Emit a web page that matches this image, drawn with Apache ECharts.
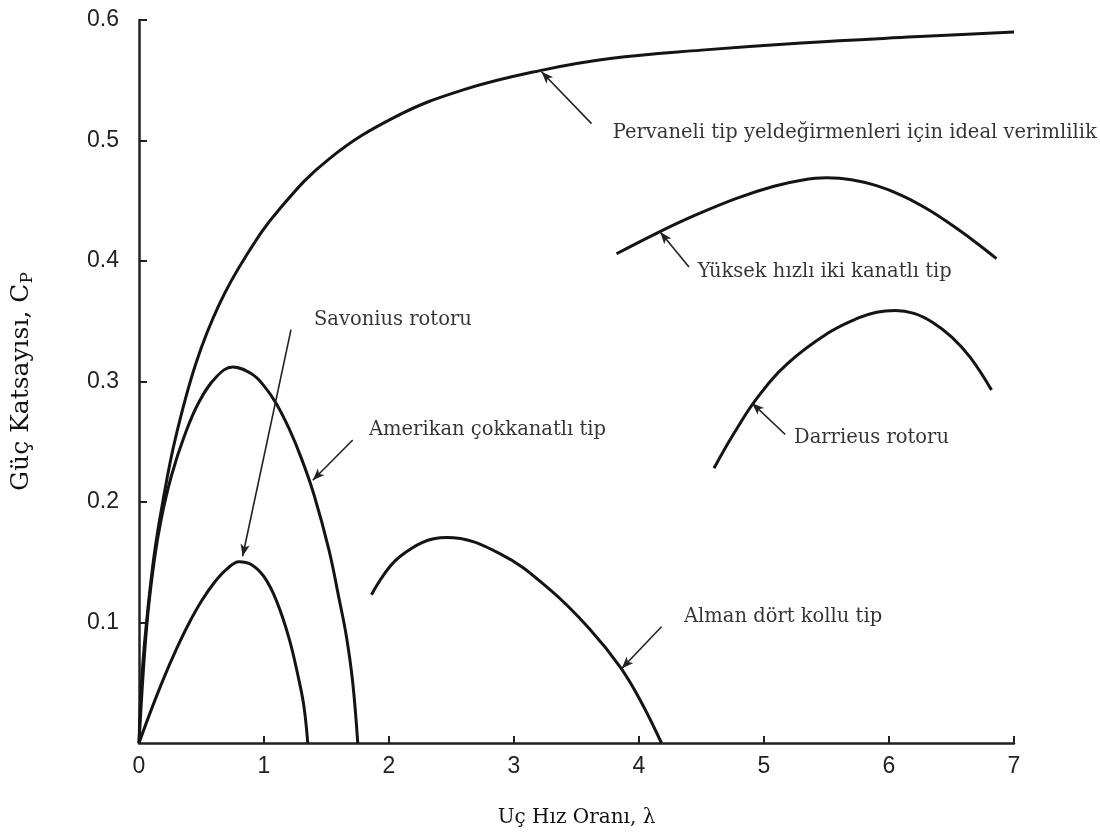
<!DOCTYPE html>
<html>
<head>
<meta charset="utf-8">
<script src="https://cdn.jsdelivr.net/npm/echarts@6/dist/echarts.min.js"></script>
<style>
  html, body { margin: 0; padding: 0; background: #ffffff; }
  #chart { width: 1100px; height: 838px; }
</style>
</head>
<body>
<div id="chart"></div>
<script>
// Power coefficient Cp versus tip speed ratio λ for several rotor types
const lambdaIdeal = [0, 0.02, 0.06, 0.12, 0.19, 0.294, 0.455, 0.642, 0.855, 1.123, 1.524, 2.058, 2.593, 3.208, 3.769, 4.5, 5.3, 6.2, 7.0];
const cpIdeal     = [0, 0.05, 0.1, 0.155, 0.2, 0.254, 0.315, 0.364, 0.404, 0.443, 0.485, 0.52, 0.542, 0.558, 0.568, 0.575, 0.581, 0.586, 0.59];

const lambdaAmerican = [0, 0.06, 0.12, 0.18, 0.26, 0.36, 0.48, 0.62, 0.75, 0.9, 1.0, 1.1, 1.2, 1.3, 1.4, 1.52, 1.6, 1.66, 1.71, 1.75];
const cpAmerican     = [0, 0.095, 0.15, 0.187, 0.222, 0.254, 0.283, 0.304, 0.312, 0.3064, 0.2964, 0.2814, 0.261, 0.236, 0.206, 0.16, 0.12, 0.088, 0.05, 0];

const lambdaSavonius = [0, 0.1, 0.2, 0.3, 0.4, 0.5, 0.6, 0.7, 0.8, 0.9, 1.0, 1.1, 1.2, 1.28, 1.32, 1.35];
const cpSavonius     = [0, 0.0281, 0.0543, 0.0781, 0.0994, 0.1178, 0.1328, 0.144, 0.1505, 0.148, 0.138, 0.118, 0.087, 0.052, 0.03, 0];

const lambdaGerman = [1.86, 2.09, 2.46, 2.89, 3.29, 3.61, 3.85, 4.01, 4.18];
const cpGerman     = [0.123, 0.155, 0.1705, 0.157, 0.127, 0.094, 0.063, 0.0355, 0];

const lambdaTwoBlade = [3.82, 4.14, 4.45, 4.78, 5.08, 5.3, 5.5, 5.7, 5.9, 6.1, 6.3, 6.5, 6.7, 6.86];
const cpTwoBlade     = [0.406, 0.423, 0.438, 0.452, 0.462, 0.467, 0.469, 0.4675, 0.4625, 0.4545, 0.4435, 0.43, 0.415, 0.402];

const lambdaDarrieus = [4.60, 4.76, 4.95, 5.19, 5.51, 5.75, 5.9, 6.05, 6.2, 6.35, 6.5, 6.65, 6.82];
const cpDarrieus     = [0.228, 0.257, 0.287, 0.315, 0.34, 0.3525, 0.3575, 0.359, 0.3565, 0.349, 0.337, 0.32, 0.293];

const xTicks = [0, 1, 2, 3, 4, 5, 6, 7];
const yTicks = [0.1, 0.2, 0.3, 0.4, 0.5, 0.6];

// Callout texts with their anchor points, arrow tails and arrow heads (data units)
const calloutTexts = [
  'Pervaneli tip yeldeğirmenleri için ideal verimlilik',
  'Yüksek hızlı iki kanatlı tip',
  'Darrieus rotoru',
  'Savonius rotoru',
  'Amerikan çokkanatlı tip',
  'Alman dört kollu tip'
];
const calloutAt   = [[3.79, 0.506], [4.47, 0.391], [5.24, 0.253], [1.40, 0.351], [1.84, 0.260], [4.36, 0.1048]];
const calloutTail = [[3.62, 0.514], [4.40, 0.395], [5.17, 0.256], [1.216, 0.343], [1.71, 0.2515], [4.18, 0.0965]];
const calloutHead = [[3.22, 0.557], [4.17, 0.424], [4.905, 0.282], [0.829, 0.155], [1.39, 0.218], [3.862, 0.0618]];

const zip = (xs, ys) => xs.map((x, i) => [x, ys[i]]);

const curveStyle = { color: '#141414', width: 3 };
function curve(name, xs, ys) {
  return {
    name, type: 'line', data: zip(xs, ys),
    showSymbol: false, smooth: 0.4, lineStyle: curveStyle,
    silent: true, z: 3
  };
}

const serifFont = 'DejaVu Serif';
const chart = echarts.init(document.getElementById('chart'), null, { renderer: 'canvas' });

chart.setOption({
  backgroundColor: '#ffffff',
  animation: false,
  grid: { left: 139, right: 86, top: 20, bottom: 95 },
  xAxis: {
    type: 'value', min: 0, max: 7, interval: 1,
    name: 'Uç Hız Oranı, λ', nameLocation: 'middle', nameGap: 65,
    nameTextStyle: { fontFamily: serifFont, fontSize: 20, color: '#111' },
    axisLine: { lineStyle: { color: '#222', width: 2.5 } },
    axisTick: { inside: true, length: 7, lineStyle: { color: '#222', width: 2 } },
    axisLabel: {
      margin: 12, fontFamily: 'Liberation Sans', fontSize: 23, color: '#222',
      formatter: v => xTicks.includes(v) ? String(v) : ''
    },
    splitLine: { show: false }
  },
  yAxis: {
    type: 'value', min: 0, max: 0.6, interval: 0.1,
    name: '{a|Güç Katsayısı, C}{s|P}', nameLocation: 'middle', nameGap: 103,
    nameTextStyle: {
      fontFamily: serifFont, fontSize: 25, color: '#111',
      rich: {
        a: { fontFamily: serifFont, fontSize: 25, color: '#111' },
        s: { fontFamily: serifFont, fontSize: 17, color: '#111', padding: [12, 0, 0, 0] }
      }
    },
    axisLine: { lineStyle: { color: '#222', width: 2.5 } },
    axisTick: { inside: true, length: 8, lineStyle: { color: '#222', width: 2 } },
    axisLabel: {
      margin: 20, fontFamily: 'Liberation Sans', fontSize: 23, color: '#222',
      showMinLabel: false,
      formatter: v => {
        const t = yTicks.find(k => Math.abs(k - v) < 1e-9);
        return t === undefined ? '' : t.toFixed(1);
      }
    },
    splitLine: { show: false }
  },
  series: [
    curve('Pervaneli tip yeldeğirmenleri için ideal verimlilik', lambdaIdeal, cpIdeal),
    curve('Amerikan çokkanatlı tip', lambdaAmerican, cpAmerican),
    curve('Savonius rotoru', lambdaSavonius, cpSavonius),
    curve('Alman dört kollu tip', lambdaGerman, cpGerman),
    curve('Yüksek hızlı iki kanatlı tip', lambdaTwoBlade, cpTwoBlade),
    curve('Darrieus rotoru', lambdaDarrieus, cpDarrieus),
    {
      // callout texts and arrows
      name: 'callouts', type: 'scatter', symbolSize: 0, silent: true, z: 4,
      data: calloutAt.map((p, i) => ({ value: p, name: calloutTexts[i] })),
      label: {
        show: true, position: 'right', distance: 0,
        formatter: p => p.name,
        fontFamily: serifFont, fontSize: 19.5, color: '#000'
      },
      markLine: {
        silent: true, animation: false,
        symbol: ['none', 'arrow'], symbolSize: [7, 12],
        lineStyle: { color: '#222', width: 1.6, type: 'solid' },
        label: { show: false },
        data: calloutTail.map((t, i) => [{ coord: t }, { coord: calloutHead[i] }])
      }
    }
  ]
});
</script>
</body>
</html>
